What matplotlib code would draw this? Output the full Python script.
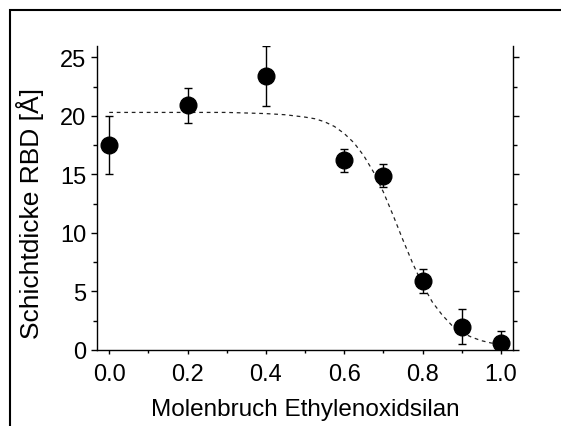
import matplotlib
matplotlib.use('Agg')
import matplotlib.pyplot as plt
from matplotlib.patches import Rectangle
from matplotlib.ticker import MultipleLocator

plt.rcParams['font.family'] = ['Liberation Sans', 'DejaVu Sans']

# Messpunkte
molenbruch = [0.0, 0.2, 0.4, 0.6, 0.7, 0.8, 0.9, 1.0]
schichtdicke = [17.5, 20.9, 23.4, 16.2, 14.9, 5.9, 2.0, 0.6]
fehler = [2.5, 1.5, 2.55, 1.0, 1.0, 1.0, 1.5, 1.0]

# Fitkurve
fit_x = [0.0, 0.05, 0.1, 0.15, 0.2, 0.25, 0.3, 0.35, 0.4, 0.45, 0.5, 0.525,
         0.55, 0.575, 0.6, 0.625, 0.65, 0.675, 0.7, 0.725, 0.75, 0.775, 0.8,
         0.825, 0.85, 0.875, 0.9, 0.925, 0.95, 0.975, 1.0]
fit_y = [20.3, 20.3, 20.3, 20.3, 20.3, 20.3, 20.3, 20.25, 20.2, 20.1, 19.9, 19.76,
         19.5, 19.1, 18.5, 17.7, 16.6, 15.2, 13.5, 11.5, 9.4, 7.4, 5.6,
         4.1, 3.0, 2.1, 1.5, 1.1, 0.8, 0.6, 0.46]

fig = plt.figure(figsize=(5.61, 4.27), dpi=100)
ax = fig.add_axes([0.1724, 0.178, 0.742, 0.7126])

ax.plot(fit_x, fit_y, color='#222222', lw=0.9, ls=(0, (3, 3)), zorder=2)
ax.errorbar(molenbruch, schichtdicke, yerr=fehler, fmt='o', color='black',
            ms=12, elinewidth=1.0, capsize=3, capthick=1.0, zorder=3)

ax.set_xlim(-0.032, 1.031)
ax.set_ylim(0, 26)
ax.xaxis.set_major_locator(MultipleLocator(0.2))
ax.xaxis.set_minor_locator(MultipleLocator(0.1))
ax.yaxis.set_major_locator(MultipleLocator(5))
ax.yaxis.set_minor_locator(MultipleLocator(2.5))
ax.xaxis.set_major_formatter(plt.FormatStrFormatter('%.1f'))

ax.spines['top'].set_visible(False)
for s in ['left', 'right', 'bottom']:
    ax.spines[s].set_linewidth(1.0)
ax.tick_params(which='both', direction='out', right=True, top=False,
               labelsize=17, width=1.0)
ax.tick_params(axis='y', which='major', length=4.5, pad=3)
ax.tick_params(axis='y', which='minor', length=2.8)
ax.tick_params(axis='x', which='major', length=3, pad=6.5)
ax.tick_params(axis='x', which='minor', length=2)

ax.set_xlabel('Molenbruch Ethylenoxidsilan', fontsize=17.5, labelpad=9)
ax.set_ylabel('Schichtdicke RBD [Å]', fontsize=19)
ax.yaxis.set_label_coords(-0.127, 0.453)

# Rahmen
fig.patches.append(Rectangle((9.5 / 561, -0.05), 1.2, 1.05 - 11 / 427,
                             transform=fig.transFigure, fill=False,
                             edgecolor='black', lw=1.5, clip_on=False))

fig.savefig('out.png', dpi=100)
